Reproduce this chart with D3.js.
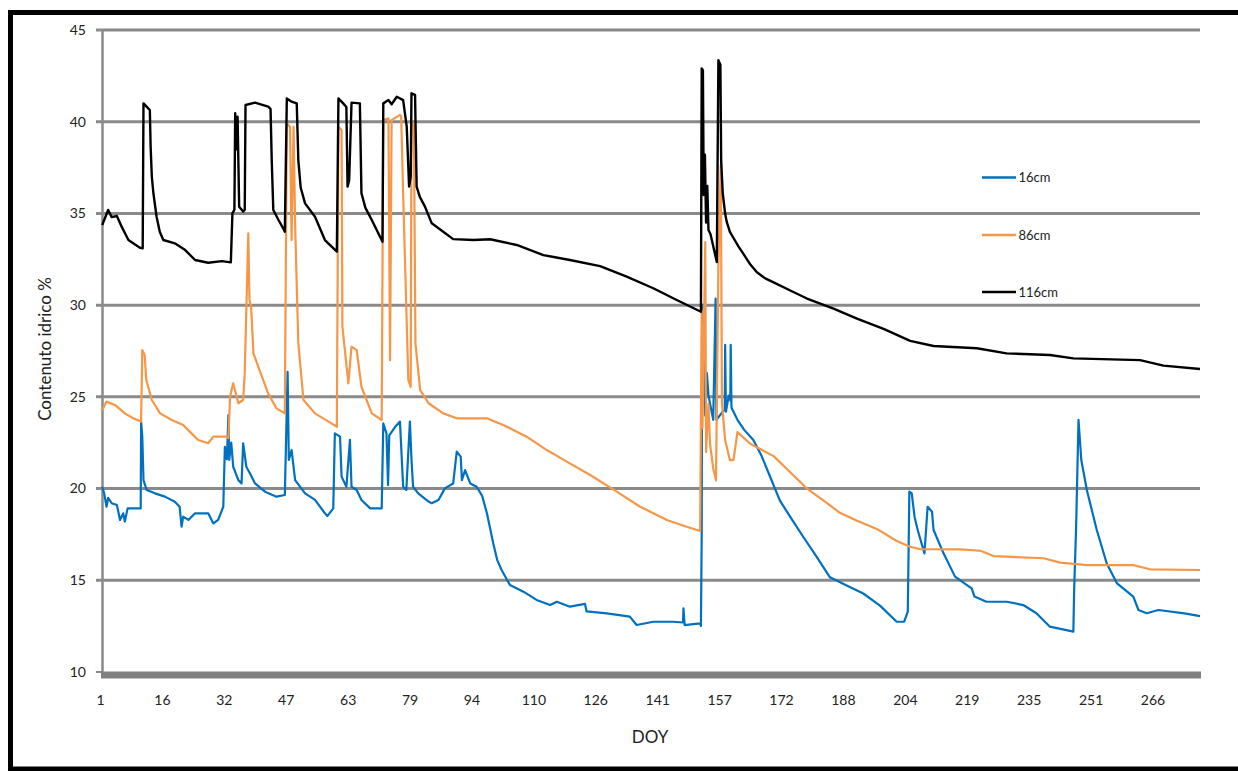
<!DOCTYPE html>
<html>
<head>
<meta charset="utf-8">
<script src="https://cdn.jsdelivr.net/npm/d3@7/dist/d3.min.js"></script>
<style>
  html, body { margin: 0; padding: 0; background: #fff; }
  svg { display: block; }
  text { font-family: Lato, "Open Sans", sans-serif; fill: #222; }
</style>
</head>
<body>
<svg id="chart" width="1238" height="771"></svg>
<script>
// Soil water content (%) by day of year, three probe depths: [DOY, value]
const depth16 = [
  [1.3,20.1],[1.8,19.74],[2.4,19.01],[2.8,19.5],[3.7,19.2],[5,19.1],[5.8,18.29],[6.6,18.65],[7,18.2],[7.7,18.92],
  [11,18.92],[11.1,23.65],[11.4,22.83],[11.7,20.46],[12.5,19.92],[14.6,19.74],[17.1,19.56],[19.6,19.28],[20.8,19.01],
  [21.3,17.92],[21.7,18.47],[23,18.29],[24.7,18.65],[28,18.65],[29.3,18.1],[30.5,18.29],[31.8,19.01],[32.2,22.28],
  [32.7,21.6],[33.1,24.01],[33.3,21.56],[33.8,22.5],[34.3,21.19],[35.6,20.46],[36.4,20.28],[36.8,22.47],[37.6,21.19],
  [38.5,20.83],[39.8,20.28],[42.3,19.83],[45.2,19.56],[47.3,19.65],[48,26.37],[48.3,21.56],[49,22.1],[49.9,20.46],
  [52.4,19.74],[54.9,19.38],[57.4,18.65],[58,18.5],[59.5,18.92],[59.9,23.01],[61.2,22.83],[61.6,20.65],[62.8,20.1],
  [63.7,22.65],[64.1,20.1],[65.4,19.92],[66.6,19.38],[68.8,18.92],[71.7,18.92],[72.1,23.56],[72.9,23.01],[73.3,20.19],
  [73.6,22.9],[75.1,23.37],[76.3,23.65],[77.1,20.1],[77.9,19.92],[78.8,23.65],[79.2,21.6],[79.6,20.1],[80.9,19.74],
  [83.5,19.29],[84.3,19.2],[86,19.38],[87.6,20.01],[89.7,20.28],[90.6,22.01],[91.6,21.74],[91.9,20.46],[92.7,21.01],
  [94,20.28],[95.6,20.1],[97,19.6],[98.2,18.65],[99.8,17.01],[100.8,16.1],[101.9,15.56],[104,14.74],[107.4,14.38],
  [110.7,13.93],[114.1,13.65],[115.8,13.83],[119.1,13.56],[122.9,13.71],[123.3,13.3],[128.4,13.2],[134.2,13.02],
  [135.9,12.56],[140.1,12.74],[145.1,12.74],[147.6,12.7],[147.7,13.47],[148,12.56],[151.9,12.65],[152.1,12.51],
  [152.3,17.58],[152.4,30.03],[153,25.95],[153.2,23.97],[153.6,26.3],[154,25.07],[154.4,24.63],[155.2,23.75],
  [155.8,30.36],[156,23.75],[157.6,24.19],[158.1,24.3],[158.2,27.83],[158.4,24.19],[159.1,25.07],[159.5,24.8],
  [159.6,27.83],[159.8,24.41],[161.3,23.75],[163,23.2],[165.3,22.65],[167.4,21.77],[169.5,20.66],[172,19.34],
  [174.6,18.46],[177.9,17.36],[181.3,16.26],[184.6,15.16],[188.8,14.72],[193,14.28],[197.2,13.62],[201.4,12.74],
  [203.3,12.74],[204.2,13.29],[204.6,19.83],[205.2,19.74],[205.9,18.47],[206.7,17.74],[208.4,16.47],[209.2,19.01],
  [210.3,18.74],[210.7,17.74],[213.2,16.47],[216.1,15.2],[219.1,14.74],[220.3,14.56],[221,14.11],[224,13.83],
  [229.1,13.83],[233.3,13.65],[236.6,13.2],[240,12.47],[245.9,12.2],[246.1,14.47],[246.6,17.92],[247.2,23.74],
  [247.9,21.56],[249.3,19.92],[251.8,17.74],[254.3,15.93],[256.9,14.83],[261,14.11],[262.3,13.38],[264.4,13.2],
  [267.3,13.38],[273.9,13.2],[277.8,13.05]
];

const depth86 = [
  [1.3,24.28],[2.4,24.74],[4.5,24.56],[7,24.1],[9.1,23.83],[11.1,23.65],[11.4,27.55],[12,27.28],[12.4,25.92],
  [13.8,24.83],[15.9,24.1],[18.8,23.74],[21.7,23.47],[23.8,23.01],[25.5,22.65],[28,22.47],[29.3,22.83],[32.7,22.83],
  [33.1,22.74],[33.5,25.0],[34.3,25.74],[35.6,24.65],[36.8,24.83],[37.2,26.28],[38.1,33.92],[38.4,30.28],[38.8,29.92],
  [39.4,27.37],[40.6,26.65],[43.1,25.19],[45.2,24.37],[47.3,24.1],[47.8,39.91],[48.6,39.73],[49,33.55],[49.5,39.73],
  [49.9,34.28],[50.7,27.92],[52,24.83],[54.9,24.1],[58.3,23.65],[60.4,23.37],[60.8,39.73],[61.6,39.55],[61.8,28.83],
  [63.3,25.74],[64.1,27.74],[65.4,27.55],[66.6,25.55],[69.2,24.1],[71.7,23.74],[72.1,40.09],[73.4,40.18],[73.8,27.0],
  [74.2,40.09],[76.3,40.37],[76.6,40.3],[77.1,36.1],[78.4,25.92],[79,25.55],[79.2,40.09],[79.8,39.73],[80.2,27.92],
  [81.4,25.37],[83.5,24.65],[87.2,24.1],[90.6,23.83],[96.5,23.83],[98.2,23.83],[102.3,23.47],[108.2,22.83],
  [113.3,22.1],[118.3,21.47],[124.2,20.74],[130.9,19.83],[136.8,19.01],[143.5,18.29],[148.5,17.92],[151.9,17.69],
  [152.3,29.7],[152.5,23.3],[153.2,33.44],[153.4,22.0],[154,24.6],[154.4,22.43],[155.2,21.1],[155.9,20.45],
  [156.5,32.12],[157.1,37.62],[157.4,24.63],[158.2,22.65],[159.4,21.55],[160.3,21.55],[161.3,23.08],[164.6,22.43],
  [170.4,21.77],[174.6,20.89],[178.8,20.0],[183,19.34],[187.1,18.68],[191.4,18.24],[196.4,17.8],[201.4,17.14],
  [204.8,16.83],[207.3,16.7],[217.4,16.69],[222.5,16.61],[225.8,16.32],[238.4,16.2],[242.6,15.96],[249.3,15.83],
  [261,15.83],[265.2,15.6],[277.8,15.56]
];

const depth116 = [
  [1.3,34.37],[2.8,35.19],[3.7,34.8],[5,34.86],[6.2,34.28],[7.9,33.55],[10.8,33.13],[11.5,33.1],[11.7,41.0],
  [12.9,40.73],[13.3,40.64],[13.5,38.64],[13.8,37.0],[14.2,36.1],[15,34.82],[15.8,34.0],[16.7,33.55],[19.6,33.37],
  [22.2,33.0],[24.7,32.46],[28,32.31],[31.4,32.4],[33.7,32.33],[34.1,35.0],[34.6,35.2],[34.8,40.46],[35.1,38.5],
  [35.4,40.27],[35.8,35.37],[36.8,35.1],[37.2,35.2],[37.4,40.91],[39.8,41.04],[43.1,40.82],[43.7,40.7],[44,37.91],
  [44.4,35.19],[45.7,34.64],[47.1,34.1],[47.3,34.0],[47.8,41.27],[49,41.09],[50.3,41.0],[50.7,37.9],[51.3,36.4],
  [52.4,35.55],[54.9,34.82],[57.4,33.55],[60.4,32.92],[60.8,41.27],[62,41.0],[62.8,40.8],[63.1,36.46],[63.5,36.8],
  [64.1,41.04],[66.2,41.0],[66.6,36.1],[67.6,35.3],[69.2,34.64],[71.9,33.46],[72.1,41.0],[73.4,41.18],[74.2,40.95],
  [75.5,41.36],[77.1,41.18],[78,39.73],[78.6,36.46],[79,37.0],[79.2,41.55],[80.1,41.46],[80.5,36.46],[81.3,35.9],
  [82.6,35.37],[84.3,34.46],[87.2,34.0],[89.7,33.6],[94.8,33.55],[99,33.59],[105.7,33.28],[112.4,32.73],
  [119.1,32.46],[126.7,32.13],[133.4,31.55],[140.1,30.92],[146,30.28],[152.1,29.64],[152.3,42.91],[152.6,42.8],
  [152.8,36.0],[153.1,38.2],[153.4,34.5],[153.7,36.5],[154,34.1],[154.5,33.88],[156.1,32.35],[156.5,43.35],
  [157,43.1],[157.2,37.86],[157.6,36.09],[158.2,34.99],[158.6,34.54],[159.4,33.99],[160.3,33.66],[161.5,33.22],
  [162.8,32.79],[164.5,32.23],[166.2,31.79],[168.3,31.46],[170.4,31.24],[174.6,30.8],[178.8,30.36],[185.5,29.81],
  [191.4,29.26],[198.1,28.71],[204.8,28.05],[210.7,27.77],[221.6,27.65],[229.1,27.37],[240,27.28],[245.9,27.1],
  [262.7,27.0],[268.6,26.7],[277.8,26.52]
];

const seriesNames = ["16cm", "86cm", "116cm"];
const seriesColors = ["#0070c0", "#f79646", "#000000"];
const yTicks = [10, 15, 20, 25, 30, 35, 40, 45];
const doyLabels = ["1","16","32","47","63","79","94","110","126","141","157","172","188","204","219","235","251","266"];

const svg = d3.select("#chart");

// outer frame
svg.append("rect")
  .attr("x", 10.5).attr("y", 12.5)
  .attr("width", 1260).attr("height", 756.5)
  .attr("fill", "none").attr("stroke", "#000").attr("stroke-width", 5);

const x = d3.scaleLinear().domain([1, 277.8]).range([101, 1200]);
const y = d3.scaleLinear().domain([10, 45]).range([672, 30]);
const xLabelPos = d3.scalePoint().domain(doyLabels).range([100.5, 1153]);

// horizontal gridlines with short left ticks
svg.append("g").selectAll("line")
  .data(yTicks.filter(v => v > 10))
  .join("line")
  .attr("x1", 96).attr("x2", 1200)
  .attr("y1", d => y(d)).attr("y2", d => y(d))
  .attr("stroke", "#8a8a8a").attr("stroke-width", 3);

// vertical axis
svg.append("line")
  .attr("x1", 102.5).attr("x2", 102.5)
  .attr("y1", y(45) - 1).attr("y2", y(10) + 6)
  .attr("stroke", "#8a8a8a").attr("stroke-width", 2.5);

// tick at the baseline
svg.append("line")
  .attr("x1", 96).attr("x2", 102)
  .attr("y1", y(10)).attr("y2", y(10))
  .attr("stroke", "#8a8a8a").attr("stroke-width", 2);

// thick horizontal axis bar
svg.append("rect")
  .attr("x", 101).attr("y", y(10) - 0.5)
  .attr("width", x(277.8) - 101 + 1).attr("height", 7)
  .attr("fill", "#808080");

// y tick labels
svg.append("g").selectAll("text")
  .data(yTicks)
  .join("text")
  .attr("x", 86).attr("y", d => y(d))
  .attr("dy", "0.35em")
  .attr("text-anchor", "end")
  .attr("font-size", 14)
  .text(d => d);

// x tick labels
svg.append("g").selectAll("text")
  .data(doyLabels)
  .join("text")
  .attr("x", d => xLabelPos(d)).attr("y", 700)
  .attr("dy", "0.35em")
  .attr("text-anchor", "middle")
  .attr("font-size", 14)
  .text(d => d);

// axis titles
svg.append("text")
  .attr("x", 650).attr("y", 737)
  .attr("dy", "0.35em")
  .attr("text-anchor", "middle")
  .attr("font-size", 17)
  .text("DOY");

svg.append("text")
  .attr("transform", "translate(45,349) rotate(-90)")
  .attr("dy", "0.35em")
  .attr("text-anchor", "middle")
  .attr("font-size", 17)
  .text("Contenuto idrico %");

// series lines
const line = d3.line().x(d => x(d[0])).y(d => y(d[1]));
const allSeries = [depth16, depth86, depth116];

svg.append("g").selectAll("path")
  .data(allSeries)
  .join("path")
  .attr("d", d => line(d))
  .attr("fill", "none")
  .attr("stroke", (d, i) => seriesColors[i])
  .attr("stroke-width", (d, i) => i === 2 ? 2.4 : 2.2)
  .attr("stroke-linejoin", "round");

// legend
const legendY = [177.5, 235, 292];
const legend = svg.append("g").selectAll("g")
  .data(seriesNames)
  .join("g")
  .attr("transform", (d, i) => `translate(982,${legendY[i]})`);

legend.append("line")
  .attr("x1", 0).attr("x2", 34)
  .attr("stroke", (d, i) => seriesColors[i])
  .attr("stroke-width", 2.5);

legend.append("text")
  .attr("x", 36.5).attr("dy", "0.35em")
  .attr("font-size", 13)
  .text(d => d);
</script>
</body>
</html>
